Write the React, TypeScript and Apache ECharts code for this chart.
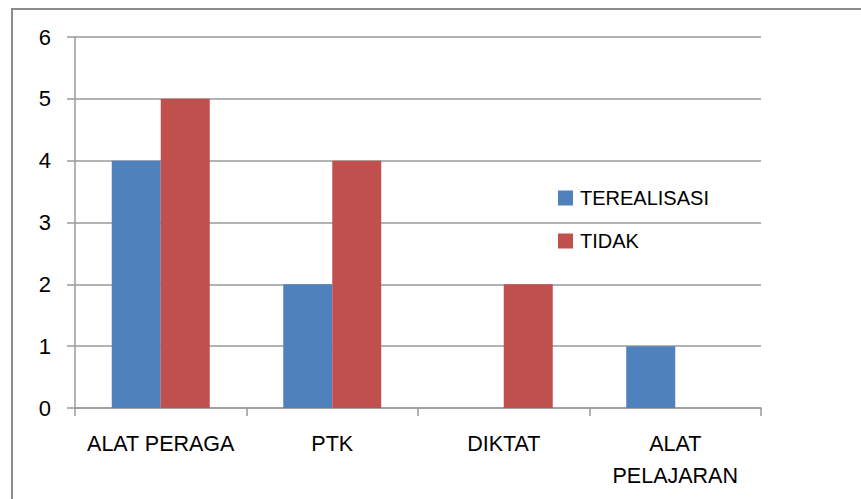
import React, { useEffect, useRef } from "react";
import * as echarts from "echarts";

const categories = ["ALAT PERAGA", "PTK", "DIKTAT", "ALAT\nPELAJARAN"];
const terealisasi = [4, 2, 0, 1];
const tidak = [5, 4, 2, 0];
const seriesNames = ["TEREALISASI", "TIDAK"];

export default function App() {
  const ref = useRef<HTMLDivElement>(null);
  useEffect(() => {
    document.body.style.margin = "0";
    const chart = echarts.init(ref.current!, null, { renderer: "svg" });
    const font = "'Liberation Sans', Arial, sans-serif";
    chart.setOption({
      animation: false,
      backgroundColor: "#ffffff",
      textStyle: { fontFamily: font },
      graphic: [
        {
          type: "rect",
          shape: { x: 12, y: 9, width: 1000, height: 1000 },
          style: { fill: "none", stroke: "#8c8c8c", lineWidth: 2 },
          silent: true,
        },
      ],
      grid: { left: 75, right: 100, top: 37, bottom: 91, containLabel: false },
      legend: {
        orient: "vertical",
        left: 553,
        top: 183,
        itemWidth: 15,
        itemHeight: 15,
        itemGap: 23,
        icon: "rect",
        textStyle: { fontSize: 20, color: "#000", fontFamily: font, padding: [0, 0, 0, 2] },
        data: seriesNames,
      },
      xAxis: {
        type: "category",
        data: categories,
        axisLine: { lineStyle: { color: "#9a9a9a", width: 1.5 } },
        axisTick: { show: true, length: 8, alignWithLabel: false, lineStyle: { color: "#9a9a9a", width: 1.5 } },
        axisLabel: { interval: 0, fontSize: 21.5, color: "#000", margin: 20, lineHeight: 32, fontFamily: font },
      },
      yAxis: {
        type: "value",
        min: 0,
        max: 6,
        interval: 1,
        axisLine: { show: true, lineStyle: { color: "#9a9a9a", width: 1.5 } },
        axisTick: { show: true, length: 8, lineStyle: { color: "#9a9a9a", width: 1.5 } },
        splitLine: { lineStyle: { color: "#9a9a9a", width: 1.5 } },
        axisLabel: { fontSize: 22, color: "#000", margin: 24, fontFamily: font },
      },
      series: [
        {
          name: seriesNames[0],
          type: "bar",
          data: terealisasi,
          itemStyle: { color: "#4F81BD" },
          barWidth: 49,
          barGap: "0%",
        },
        {
          name: seriesNames[1],
          type: "bar",
          data: tidak,
          itemStyle: { color: "#C0504D" },
          barWidth: 49,
          barGap: "0%",
        },
      ],
    });
    return () => chart.dispose();
  }, []);
  return (
    <div
      ref={ref}
      style={{ width: 861, height: 499, position: "absolute", left: 0, top: 0 }}
    />
  );
}
